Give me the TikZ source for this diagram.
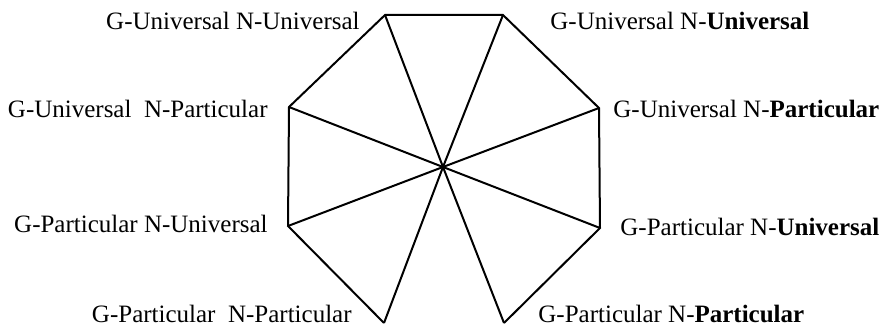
\documentclass[tikz,border=0pt]{standalone}
\usepackage{fontspec}
\setmainfont{Liberation Serif}
\usepackage{tikz}
\tikzset{
  rimline/.style={
    line width=1pt,
    line join=miter
  },
  spokeline/.style={
    line width=1pt
  },
  leftlabel/.style={
    anchor=base east,
    inner sep=0pt,
    font=\fontsize{12.5}{15}\selectfont
  },
  rightlabel/.style={
    anchor=base west,
    inner sep=0pt,
    font=\fontsize{12.5}{15}\selectfont
  }
}
\begin{document}
\begin{tikzpicture}[x=0.5pt,y=-0.5pt]
  \useasboundingbox (0,0) rectangle (885,326);
  % corners of the octagon and its hub
  \coordinate (tl) at (385,15);
  \coordinate (tr) at (503,15);
  \coordinate (ur) at (599,108);
  \coordinate (lr) at (600,228);
  \coordinate (br) at (504,323);
  \coordinate (bl) at (384,323);
  \coordinate (ll) at (288,226);
  \coordinate (ul) at (289,107);
  \coordinate (hub) at (443,167);
  % rim, open at the bottom
  \draw[rimline] (bl) -- (ll) -- (ul) -- (tl) -- (tr) -- (ur) -- (lr) -- (br);
  \foreach \v in {tl,tr,ur,lr,br,bl,ll,ul}
    \draw[spokeline] (hub) -- (\v);
  % labels
  \node[leftlabel] (gunu) at (360,30) {G-Universal N-Universal};
  \node[rightlabel] (gunub) at (550,30) {G-Universal N-\textbf{Universal}};
  \node[leftlabel] (gunp) at (268,118) {G-Universal\ \ N-Particular};
  \node[rightlabel] (gunpb) at (613,118) {G-Universal N-\textbf{Particular}};
  \node[leftlabel] (gpnu) at (268,233) {G-Particular N-Universal};
  \node[rightlabel] (gpnub) at (620,236) {G-Particular N-\textbf{Universal}};
  \node[leftlabel] (gpnp) at (352,322) {G-Particular\ \ N-Particular};
  \node[rightlabel] (gpnpb) at (538,322) {G-Particular N-\textbf{Particular}};
\end{tikzpicture}
\end{document}
